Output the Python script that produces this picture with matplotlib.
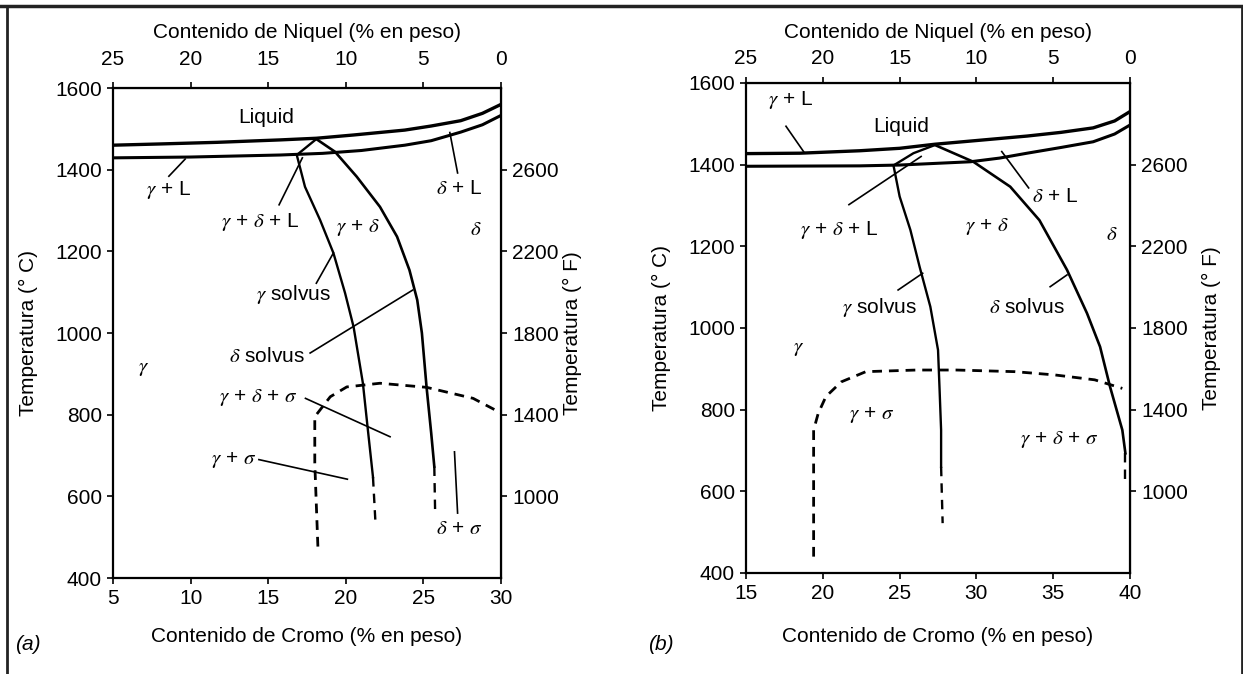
import matplotlib
matplotlib.use('Agg')
import matplotlib.pyplot as plt

plt.rcParams['font.family'] = ['Liberation Sans', 'DejaVu Sans']
plt.rcParams['mathtext.fontset'] = 'stix'

# ---- panel (a): Fe-Cr-Ni, Cr 5-30 wt%
a_liq_cr = [5, 8, 11.7, 15.8, 18.1, 20.5, 23.8, 25.5, 27.4, 28.8, 30]
a_liq_t = [1460, 1463, 1467, 1473, 1477, 1485, 1497, 1507, 1520, 1538, 1560]
a_sol_cr = [5, 10, 15.8, 18.5, 21, 23.8, 25.5, 27.4, 28.8, 30]
a_sol_t = [1429, 1431, 1436, 1440, 1447, 1460, 1471, 1492, 1510, 1533]
a_gsol_cr = [18.1, 16.84, 17.37, 18.34, 19.2, 19.95, 20.5, 21.1, 21.4, 21.75]
a_gsol_t = [1475, 1436, 1358, 1277, 1196, 1098, 1015, 877, 770, 647]
a_gsol_dash_cr = [21.75, 21.9]
a_gsol_dash_t = [647, 542]
a_dsol_cr = [18.1, 19.3, 20.7, 22.2, 23.3, 24.1, 24.6, 24.9, 25.2, 25.5, 25.7]
a_dsol_t = [1475, 1444, 1383, 1309, 1236, 1154, 1081, 1000, 868, 755, 673]
a_dsol_dash_cr = [25.7, 25.75]
a_dsol_dash_t = [673, 567]
a_sig_cr = [18.2, 18.0, 18.0, 19.0, 20.06, 22.2, 25.2, 28.2, 30]
a_sig_t = [477, 681, 795, 844, 868, 877, 867, 840, 804]

a_labels = [
    ('Liquid', 14.9, 1527),
    (r'$\gamma$ + L', 8.6, 1351),
    (r'$\delta$ + L', 27.3, 1355),
    (r'$\gamma$ + $\delta$ + L', 14.5, 1273),
    (r'$\gamma$ + $\delta$', 20.8, 1258),
    (r'$\delta$', 28.4, 1253),
    (r'$\gamma$ solvus', 16.6, 1094),
    (r'$\delta$ solvus', 14.9, 943),
    (r'$\gamma$', 7.0, 914),
    (r'$\gamma$ + $\delta$ + $\sigma$', 14.4, 841),
    (r'$\gamma$ + $\sigma$', 12.8, 690),
    (r'$\delta$ + $\sigma$', 27.3, 522),
]
a_leaders = [
    ((8.6, 1384), (9.65, 1426)),
    ((27.2, 1392), (26.7, 1491)),
    ((15.7, 1314), (17.2, 1429)),
    ((18.1, 1122), (19.2, 1196)),
    ((17.7, 951), (24.3, 1105)),
    ((17.4, 840), (22.85, 746)),
    ((14.4, 690), (20.1, 642)),
    ((27.0, 709), (27.2, 559)),
]

# ---- panel (b): Cr 15-40 wt%
b_liq_cr = [15, 18.5, 22.4, 25, 27.3, 30, 33.3, 35.5, 37.6, 39, 40]
b_liq_t = [1427, 1428, 1434, 1440, 1450, 1459, 1470, 1479, 1490, 1507, 1530]
b_sol_cr = [15, 22.4, 25, 29.6, 31.5, 33.3, 35.5, 37.6, 39, 40]
b_sol_t = [1396, 1397, 1399, 1407, 1416, 1428, 1442, 1456, 1475, 1497]
b_gsol_cr = [27.3, 25.9, 24.6, 25.0, 25.7, 26.3, 27.0, 27.5, 27.6, 27.7, 27.7]
b_gsol_t = [1448, 1428, 1398, 1322, 1240, 1150, 1052, 946, 850, 750, 660]
b_gsol_dash_cr = [27.7, 27.8]
b_gsol_dash_t = [660, 522]
b_dsol_cr = [27.3, 29.8, 32.2, 34.1, 35.9, 37.2, 38.05, 38.7, 39.5, 39.7]
b_dsol_t = [1448, 1407, 1346, 1264, 1142, 1036, 954, 856, 750, 693]
b_dsol_dash_cr = [39.7, 39.7]
b_dsol_dash_t = [693, 619]
b_sig_cr = [19.4, 19.4, 19.4, 19.7, 20.2, 21.2, 22.8, 26.1, 28.7, 32.5, 35.1, 37.7, 39.5]
b_sig_t = [440, 628, 750, 791, 832, 868, 893, 897, 897, 893, 885, 873, 852]

b_labels = [
    (r'$\gamma$ + L', 17.9, 1559),
    ('Liquid', 25.1, 1493),
    (r'$\delta$ + L', 35.1, 1322),
    (r'$\gamma$ + $\delta$ + L', 21.1, 1241),
    (r'$\gamma$ + $\delta$', 30.7, 1248),
    (r'$\delta$', 38.8, 1228),
    (r'$\gamma$ solvus', 23.7, 1049),
    (r'$\delta$ solvus', 33.3, 1049),
    (r'$\gamma$', 18.4, 950),
    (r'$\gamma$ + $\sigma$', 23.2, 787),
    (r'$\gamma$ + $\delta$ + $\sigma$', 35.4, 726),
]
b_leaders = [
    ((17.6, 1494), (18.8, 1429)),
    ((33.4, 1343), (31.65, 1432)),
    ((21.7, 1302), (26.4, 1420)),
    ((24.9, 1093), (26.5, 1134)),
    ((34.8, 1101), (35.9, 1130)),
]

c_ticks = [400, 600, 800, 1000, 1200, 1400, 1600]
f_ticks = [1000, 1400, 1800, 2200, 2600]
ni_ticks = [25, 20, 15, 10, 5, 0]

FS = 15


def draw_panel(ax, d, cr0, top_pad, f_pad, xlab_y):
    ax.plot(d['liq'][0], d['liq'][1], color='black', lw=2.4, solid_capstyle='butt')
    ax.plot(d['sol'][0], d['sol'][1], color='black', lw=2.2, solid_capstyle='butt')
    ax.plot(d['gsol'][0], d['gsol'][1], color='black', lw=1.7)
    ax.plot(d['dsol'][0], d['dsol'][1], color='black', lw=1.9)
    ax.plot(d['gdash'][0], d['gdash'][1], color='black', lw=1.7, ls=(0, (4, 3)))
    ax.plot(d['ddash'][0], d['ddash'][1], color='black', lw=1.7, ls=(0, (4, 3)))
    ax.plot(d['sig'][0], d['sig'][1], color='black', lw=2.0, ls=(0, (3.5, 2.5)))
    for (x1, y1), (x2, y2) in d['leaders']:
        ax.plot([x1, x2], [y1, y2], color='black', lw=1.2)
    for txt, x, y in d['labels']:
        ax.text(x, y, txt, fontsize=FS, ha='center', va='center')

    ax.set_xlim(cr0, cr0 + 25)
    ax.set_ylim(400, 1600)
    ax.set_xticks(range(cr0, cr0 + 26, 5))
    ax.set_yticks(c_ticks)
    ax.tick_params(direction='out', length=4, width=1.2, labelsize=FS, pad=4)
    for s in ax.spines.values():
        s.set_linewidth(1.6)
    ax.set_xlabel('Contenido de Cromo (% en peso)', fontsize=FS)
    ax.xaxis.set_label_coords(0.5, xlab_y)
    ax.set_ylabel('Temperatura (° C)', fontsize=FS, labelpad=12)

    top = ax.secondary_xaxis('top', functions=(lambda c: cr0 + 25 - c, lambda n: cr0 + 25 - n))
    top.set_xticks(ni_ticks)
    top.tick_params(direction='out', length=4, width=1.2, labelsize=FS, pad=top_pad)
    top.set_xlabel('Contenido de Niquel (% en peso)', fontsize=FS, labelpad=8)

    right = ax.secondary_yaxis('right', functions=(lambda c: 2 * c - 200, lambda f: (f + 200) / 2))
    right.set_yticks(f_ticks)
    right.tick_params(direction='out', length=4, width=1.2, labelsize=FS, pad=4)
    right.set_ylabel('Temperatura (° F)', fontsize=FS, labelpad=f_pad)


fig = plt.figure(figsize=(12.43, 6.74), dpi=100)
ax_a = fig.add_axes([0.0909, 0.1424, 0.3122, 0.727])
ax_b = fig.add_axes([0.6002, 0.1499, 0.3089, 0.727])

panel_a = {
    'liq': (a_liq_cr, a_liq_t), 'sol': (a_sol_cr, a_sol_t),
    'gsol': (a_gsol_cr, a_gsol_t), 'dsol': (a_dsol_cr, a_dsol_t),
    'gdash': (a_gsol_dash_cr, a_gsol_dash_t), 'ddash': (a_dsol_dash_cr, a_dsol_dash_t),
    'sig': (a_sig_cr, a_sig_t), 'labels': a_labels, 'leaders': a_leaders,
}
panel_b = {
    'liq': (b_liq_cr, b_liq_t), 'sol': (b_sol_cr, b_sol_t),
    'gsol': (b_gsol_cr, b_gsol_t), 'dsol': (b_dsol_cr, b_dsol_t),
    'gdash': (b_gsol_dash_cr, b_gsol_dash_t), 'ddash': (b_dsol_dash_cr, b_dsol_dash_t),
    'sig': (b_sig_cr, b_sig_t), 'labels': b_labels, 'leaders': b_leaders,
}
draw_panel(ax_a, panel_a, 5, top_pad=10, f_pad=3, xlab_y=-0.1)
draw_panel(ax_b, panel_b, 15, top_pad=7, f_pad=10, xlab_y=-0.11)

fig.text(15 / 1243, 1 - 645 / 674, '(a)', fontsize=FS, style='italic', ha='left', va='center')
fig.text(648 / 1243, 1 - 645 / 674, '(b)', fontsize=FS, style='italic', ha='left', va='center')

# outer frame: top, left and right edges
fig.add_artist(plt.Line2D([7 / 1243, 7 / 1243], [0, 1 - 6 / 674], color='#222222', lw=2,
                          transform=fig.transFigure))
fig.add_artist(plt.Line2D([1242 / 1243, 1242 / 1243], [0, 1 - 6 / 674], color='#222222', lw=2,
                          transform=fig.transFigure))
fig.add_artist(plt.Line2D([0, 1], [1 - 6 / 674, 1 - 6 / 674], color='#222222', lw=2.5,
                          transform=fig.transFigure))

fig.savefig('out.png', dpi=100)
